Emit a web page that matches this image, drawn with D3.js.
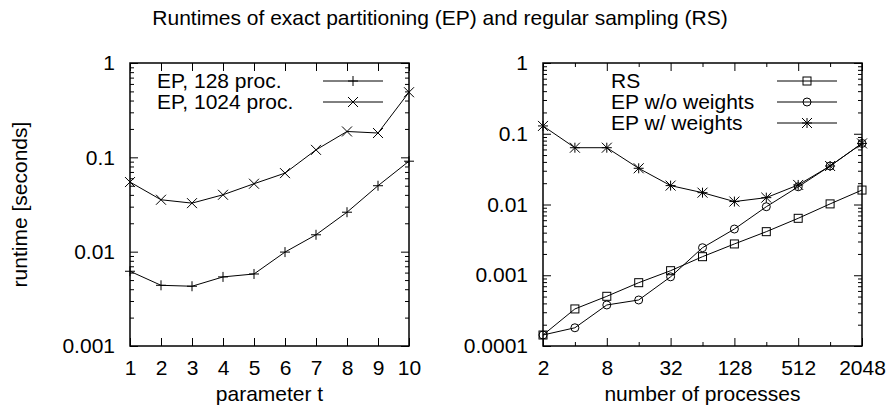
<!DOCTYPE html>
<html>
<head>
<meta charset="utf-8">
<script src="https://cdn.jsdelivr.net/npm/d3@7"></script>
<style>
  body { margin: 0; background: #fff; }
  text { font-family: "Liberation Sans", Arial, Helvetica, sans-serif; fill: #000; }
</style>
</head>
<body>
<svg id="chart" width="891" height="409"></svg>
<script>
// data
const tValues = [1, 2, 3, 4, 5, 6, 7, 8, 9, 10];
const ep128 = [0.0062, 0.0044, 0.0043, 0.0054, 0.0058, 0.0099, 0.0151, 0.0262, 0.050, 0.091];
const ep1024 = [0.0547, 0.0355, 0.0327, 0.0401, 0.0525, 0.068, 0.120, 0.188, 0.181, 0.49];

const procs = [2, 4, 8, 16, 32, 64, 128, 256, 512, 1024, 2048];
const rs = [0.000143, 0.000334, 0.000504, 0.000785, 0.00116, 0.00183, 0.00277, 0.00413, 0.00638, 0.0102, 0.016];
const epNoWeights = [0.000143, 0.000181, 0.00038, 0.000447, 0.00095, 0.00245, 0.0045, 0.0093, 0.0178, 0.035, 0.073];
const epWeights = [0.129, 0.0635, 0.0635, 0.0325, 0.0185, 0.0147, 0.011, 0.0125, 0.0189, 0.035, 0.073];

const leftYTicks = [1, 0.1, 0.01, 0.001];
const rightYTicks = [1, 0.1, 0.01, 0.001, 0.0001];
const procLabels = [2, 8, 32, 128, 512, 2048];

const title = "Runtimes of exact partitioning (EP) and regular sampling (RS)";
const fontSize = 21;

const svg = d3.select("#chart");

// gnuplot style point shapes, centred on 0,0
function marker(g, type, x, y) {
	const s = 5;
	const m = g.append("g").attr("transform", "translate(" + x + "," + y + ")")
		.attr("fill", "none").attr("stroke", "#000").attr("stroke-width", 1);
	if (type === "plus" || type === "star") {
		m.append("path").attr("d", "M" + (-s) + ",0H" + s + "M0," + (-s) + "V" + s);
	}
	if (type === "cross" || type === "star") {
		m.append("path").attr("d", "M" + (-s) + "," + (-s) + "L" + s + "," + s + "M" + (-s) + "," + s + "L" + s + "," + (-s));
	}
	if (type === "square") {
		m.append("rect").attr("x", -4).attr("y", -4).attr("width", 8).attr("height", 8);
	}
	if (type === "circle") {
		m.append("circle").attr("r", 4);
	}
}

function minorLogTicks(lo, hi) {
	let out = [];
	for (let d = lo; d < hi; d *= 10) {
		for (let k = 2; k <= 9; k++) out.push(d * k);
	}
	return out;
}

function frame(g, x, y, w, h) {
	g.append("rect").attr("x", x).attr("y", y).attr("width", w).attr("height", h)
		.attr("fill", "none").attr("stroke", "#000").attr("stroke-width", 1.5);
}

function tickAxis(g, axis, tx, ty) {
	const a = g.append("g").attr("transform", "translate(" + tx + "," + ty + ")").call(axis);
	a.select(".domain").remove();
	a.selectAll("line").attr("stroke", "#000").attr("stroke-width", 1);
	a.selectAll("text").attr("font-size", fontSize).attr("font-family", null);
	return a;
}

function drawSeries(g, xs, ys, xScale, yScale, type) {
	const line = d3.line().x((d, i) => xScale(xs[i])).y(d => yScale(d));
	g.append("path").datum(ys).attr("d", line)
		.attr("fill", "none").attr("stroke", "#000").attr("stroke-width", 1);
	ys.forEach((v, i) => marker(g, type, xScale(xs[i]), yScale(v)));
}

function legend(g, entries, textX, lineX0, lineX1, y0, dy) {
	entries.forEach((e, i) => {
		const y = y0 + i * dy;
		g.append("text").attr("x", textX).attr("y", y + 7).attr("font-size", fontSize).text(e.label);
		g.append("line").attr("x1", lineX0).attr("x2", lineX1).attr("y1", y).attr("y2", y)
			.attr("stroke", "#000").attr("stroke-width", 1);
		marker(g, e.type, (lineX0 + lineX1) / 2, y);
	});
}

// title
svg.append("text").attr("x", 440).attr("y", 25).attr("text-anchor", "middle")
	.attr("font-size", fontSize).text(title);

// ---------- left plot ----------
const L = { x: 130, y: 63, w: 279, h: 283 };
const xL = d3.scaleLinear().domain([1, 10]).range([L.x, L.x + L.w]);
const yL = d3.scaleLog().domain([0.001, 1]).range([L.y + L.h, L.y]);
const left = svg.append("g");

tickAxis(left, d3.axisBottom(xL).tickValues(tValues).tickSizeInner(-8).tickPadding(14).tickFormat(d3.format("d")), 0, L.y + L.h);
tickAxis(left, d3.axisTop(xL).tickValues(tValues).tickSizeInner(-8).tickFormat(""), 0, L.y);
tickAxis(left, d3.axisLeft(yL).tickValues(leftYTicks).tickSizeInner(-8).tickPadding(15).tickFormat(d => String(d)), L.x, 0);
tickAxis(left, d3.axisLeft(yL).tickValues(minorLogTicks(0.001, 1)).tickSizeInner(-4).tickFormat(""), L.x, 0);
tickAxis(left, d3.axisRight(yL).tickValues(leftYTicks).tickSizeInner(-8).tickFormat(""), L.x + L.w, 0);
tickAxis(left, d3.axisRight(yL).tickValues(minorLogTicks(0.001, 1)).tickSizeInner(-4).tickFormat(""), L.x + L.w, 0);

drawSeries(left, tValues, ep128, xL, yL, "plus");
drawSeries(left, tValues, ep1024, xL, yL, "cross");
frame(left, L.x, L.y, L.w, L.h);

legend(left, [{ label: "EP, 128 proc.", type: "plus" }, { label: "EP, 1024 proc.", type: "cross" }],
	157, 323, 383, 81, 21);

left.append("text").attr("x", xL(5.5)).attr("y", 401).attr("text-anchor", "middle")
	.attr("font-size", fontSize).text("parameter t");
left.append("text").attr("transform", "translate(27," + (L.y + L.h / 2) + ") rotate(-90)")
	.attr("text-anchor", "middle").attr("font-size", fontSize).text("runtime [seconds]");

// ---------- right plot ----------
const R = { x: 543, y: 63, w: 319, h: 283 };
const xR = d3.scaleLog().base(2).domain([2, 2048]).range([R.x, R.x + R.w]);
const yR = d3.scaleLog().domain([0.0001, 1]).range([R.y + R.h, R.y]);
const right = svg.append("g");
const procMinor = procs.filter(p => procLabels.indexOf(p) < 0);

tickAxis(right, d3.axisBottom(xR).tickValues(procLabels).tickSizeInner(-8).tickPadding(14).tickFormat(d3.format("d")), 0, R.y + R.h);
tickAxis(right, d3.axisBottom(xR).tickValues(procMinor).tickSizeInner(-4).tickFormat(""), 0, R.y + R.h);
tickAxis(right, d3.axisTop(xR).tickValues(procLabels).tickSizeInner(-8).tickFormat(""), 0, R.y);
tickAxis(right, d3.axisTop(xR).tickValues(procMinor).tickSizeInner(-4).tickFormat(""), 0, R.y);
tickAxis(right, d3.axisLeft(yR).tickValues(rightYTicks).tickSizeInner(-8).tickPadding(15).tickFormat(d => String(d)), R.x, 0);
tickAxis(right, d3.axisLeft(yR).tickValues(minorLogTicks(0.0001, 1)).tickSizeInner(-4).tickFormat(""), R.x, 0);
tickAxis(right, d3.axisRight(yR).tickValues(rightYTicks).tickSizeInner(-8).tickFormat(""), R.x + R.w, 0);
tickAxis(right, d3.axisRight(yR).tickValues(minorLogTicks(0.0001, 1)).tickSizeInner(-4).tickFormat(""), R.x + R.w, 0);

drawSeries(right, procs, rs, xR, yR, "square");
drawSeries(right, procs, epNoWeights, xR, yR, "circle");
drawSeries(right, procs, epWeights, xR, yR, "star");
frame(right, R.x, R.y, R.w, R.h);

legend(right, [
	{ label: "RS", type: "square" },
	{ label: "EP w/o weights", type: "circle" },
	{ label: "EP w/ weights", type: "star" }
], 611, 777, 837, 81, 21);

right.append("text").attr("x", R.x + R.w / 2).attr("y", 401).attr("text-anchor", "middle")
	.attr("font-size", fontSize).text("number of processes");
</script>
</body>
</html>
